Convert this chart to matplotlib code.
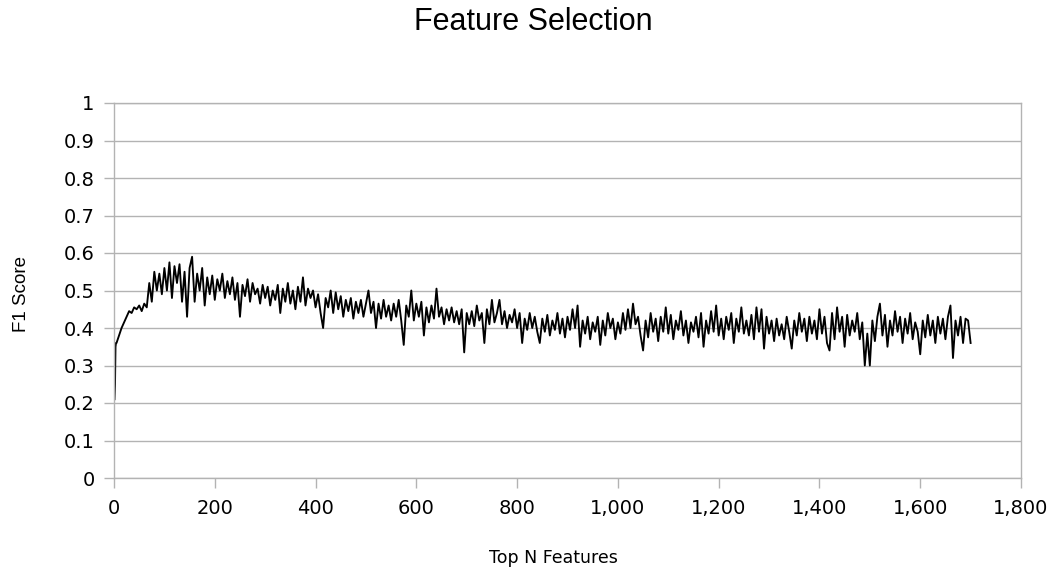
import numpy as np
import matplotlib
matplotlib.use("Agg")
import matplotlib.pyplot as plt
import matplotlib.ticker as mticker

# F1 score per number of top features (every 5 features)
first_features = [1, 2, 3, 4]
first_scores = [0.21, 0.25, 0.35, 0.36]

step_scores = [
    # 5 - 50
    0.36, 0.38, 0.40, 0.415, 0.43, 0.445, 0.44, 0.455, 0.45, 0.46,
    # 55 - 100
    0.445, 0.465, 0.455, 0.52, 0.47, 0.55, 0.50, 0.545, 0.49, 0.56,
    # 105 - 150
    0.50, 0.575, 0.48, 0.565, 0.52, 0.57, 0.47, 0.55, 0.43, 0.56,
    # 155 - 200
    0.59, 0.47, 0.545, 0.50, 0.56, 0.46, 0.535, 0.49, 0.54, 0.475,
    # 205 - 250
    0.53, 0.50, 0.545, 0.48, 0.525, 0.49, 0.535, 0.475, 0.52, 0.43,
    # 255 - 300
    0.515, 0.485, 0.53, 0.47, 0.52, 0.49, 0.505, 0.465, 0.515, 0.48,
    # 305 - 350
    0.51, 0.46, 0.50, 0.475, 0.515, 0.44, 0.505, 0.47, 0.52, 0.465,
    # 355 - 400
    0.50, 0.45, 0.51, 0.47, 0.535, 0.46, 0.505, 0.48, 0.50, 0.455,
    # 405 - 450
    0.49, 0.44, 0.40, 0.48, 0.455, 0.50, 0.44, 0.495, 0.45, 0.485,
    # 455 - 500
    0.43, 0.475, 0.445, 0.48, 0.425, 0.47, 0.44, 0.475, 0.43, 0.465,
    # 505 - 550
    0.50, 0.44, 0.47, 0.40, 0.465, 0.425, 0.475, 0.43, 0.46, 0.42,
    # 555 - 600
    0.465, 0.43, 0.475, 0.42, 0.355, 0.46, 0.43, 0.50, 0.42, 0.465,
    # 605 - 650
    0.43, 0.47, 0.38, 0.455, 0.415, 0.46, 0.425, 0.505, 0.43, 0.455,
    # 655 - 700
    0.41, 0.45, 0.42, 0.455, 0.415, 0.445, 0.41, 0.45, 0.335, 0.44,
    # 705 - 750
    0.41, 0.445, 0.405, 0.46, 0.42, 0.44, 0.36, 0.45, 0.41, 0.475,
    # 755 - 800
    0.415, 0.44, 0.475, 0.41, 0.445, 0.40, 0.435, 0.415, 0.45, 0.40,
    # 805 - 850
    0.44, 0.36, 0.425, 0.395, 0.44, 0.40, 0.43, 0.39, 0.36, 0.425,
    # 855 - 900
    0.39, 0.435, 0.38, 0.42, 0.395, 0.44, 0.385, 0.425, 0.375, 0.43,
    # 905 - 950
    0.395, 0.45, 0.40, 0.46, 0.35, 0.42, 0.385, 0.43, 0.37, 0.415,
    # 955 - 1000
    0.39, 0.43, 0.355, 0.42, 0.38, 0.44, 0.40, 0.425, 0.37, 0.415,
    # 1005 - 1050
    0.385, 0.44, 0.395, 0.45, 0.40, 0.465, 0.41, 0.43, 0.38, 0.34,
    # 1055 - 1100
    0.42, 0.375, 0.44, 0.39, 0.425, 0.365, 0.43, 0.39, 0.455, 0.385,
    # 1105 - 1150
    0.435, 0.37, 0.42, 0.395, 0.445, 0.38, 0.42, 0.36, 0.415, 0.39,
    # 1155 - 1200
    0.43, 0.375, 0.44, 0.35, 0.42, 0.385, 0.445, 0.39, 0.46, 0.38,
    # 1205 - 1250
    0.425, 0.37, 0.43, 0.395, 0.44, 0.36, 0.425, 0.39, 0.455, 0.385,
    # 1255 - 1300
    0.42, 0.38, 0.435, 0.37, 0.455, 0.39, 0.45, 0.345, 0.43, 0.385,
    # 1305 - 1350
    0.42, 0.365, 0.425, 0.38, 0.41, 0.37, 0.43, 0.39, 0.345, 0.42,
    # 1355 - 1400
    0.38, 0.44, 0.39, 0.425, 0.365, 0.43, 0.385, 0.42, 0.37, 0.45,
    # 1405 - 1450
    0.385, 0.43, 0.36, 0.34, 0.44, 0.37, 0.455, 0.39, 0.43, 0.35,
    # 1455 - 1500
    0.435, 0.38, 0.42, 0.39, 0.44, 0.37, 0.415, 0.30, 0.385, 0.30,
    # 1505 - 1550
    0.42, 0.365, 0.43, 0.465, 0.38, 0.435, 0.35, 0.42, 0.38, 0.445,
    # 1555 - 1600
    0.39, 0.43, 0.36, 0.425, 0.385, 0.44, 0.37, 0.415, 0.39, 0.33,
    # 1605 - 1650
    0.42, 0.375, 0.435, 0.38, 0.42, 0.36, 0.43, 0.385, 0.425, 0.37,
    # 1655 - 1700
    0.43, 0.46, 0.32, 0.42, 0.38, 0.43, 0.36, 0.425, 0.42, 0.36,
]
step_features = np.arange(5, 5 * len(step_scores) + 1, 5)

features = np.concatenate([first_features, step_features])
scores = np.concatenate([first_scores, step_scores])

grey = "#b3b3b3"

fig = plt.figure(figsize=(10.51, 5.69), dpi=100)
ax = fig.add_axes([114 / 1051, 1 - 478 / 569, 907 / 1051, 375 / 569])

ax.plot(features, scores, color="black", linewidth=1.35)

ax.set_xlim(0, 1800)
ax.set_ylim(0, 1)
ax.xaxis.set_major_locator(mticker.MultipleLocator(200))
ax.yaxis.set_major_locator(mticker.MultipleLocator(0.1))
ax.xaxis.set_major_formatter(mticker.FuncFormatter(lambda x, _: f"{int(x):,}"))
ax.yaxis.set_major_formatter(mticker.FuncFormatter(lambda y, _: f"{y:g}"))

ax.grid(axis="y", color=grey, linewidth=1)
ax.set_axisbelow(True)
for side in ax.spines.values():
    side.set_color(grey)
    side.set_linewidth(1)
ax.tick_params(direction="out", length=7, width=1, color=grey,
               labelsize=14, labelcolor="black")
ax.tick_params(axis="x", pad=8)
ax.tick_params(axis="y", pad=7)

fig.text(533 / 1051, 1 - 22 / 569, "Feature Selection", ha="center", va="center",
         fontsize=22, family="Liberation Sans")
fig.text(553 / 1051, 11 / 569, "Top N Features", ha="center", va="center",
         fontsize=12.5, family="DejaVu Sans")
fig.text(21 / 1051, 1 - 294 / 569, "F1 Score", ha="center", va="center",
         rotation=90, fontsize=13.5, family="Liberation Sans")

fig.savefig("out.png", dpi=100)
